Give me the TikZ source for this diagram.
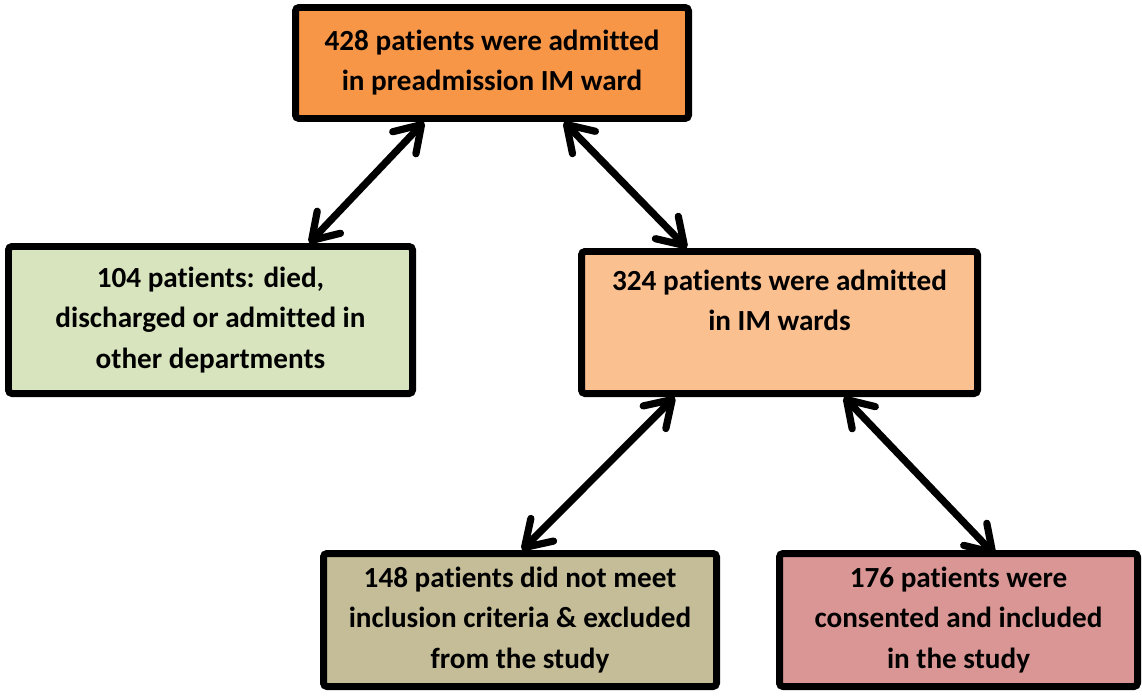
\documentclass[tikz,border=0pt]{standalone}
\usepackage{fontspec}
\setmainfont{Carlito}[Ligatures=NoCommon]
\usepackage{tikz}
\usetikzlibrary{arrows.meta,positioning,calc}

\definecolor{admitorange}{HTML}{F79646}
\definecolor{wardorange}{HTML}{FAC090}
\definecolor{othergreen}{HTML}{D7E4BD}
\definecolor{excludedkhaki}{HTML}{C4BD97}
\definecolor{includedrose}{HTML}{D99694}

\begin{document}
\begin{tikzpicture}[
      flowbox/.style={rectangle, draw, line width=3.98pt, rounded corners=2pt, align=center, inner sep=2pt,
        font=\fontsize{16.6}{22.8}\selectfont\bfseries},
      arrow/.style={{Straight Barb[round,length=5mm,width=6.4mm]}-{Straight Barb[round,length=5mm,width=6.4mm]}, line width=4.1pt}
    ]
      \useasboundingbox (0,0) rectangle (22.84,13.96);

      % Boxes
      \node[flowbox, fill=admitorange, minimum width=7.86cm, minimum height=2.22cm] (admitted) at (9.84,12.7)
        {428 patients were admitted\\in preadmission IM ward};
      \node[flowbox, fill=othergreen, minimum width=8.08cm, minimum height=2.94cm] (other) at (4.21,7.56)
        {104 patients: died,\\discharged or admitted in\\other departments};
      \node[flowbox, fill=wardorange, minimum width=7.92cm, minimum height=2.84cm, text depth=0.88cm] (ward) at (15.59,7.51)
        {324 patients were admitted\\in IM wards};
      \node[flowbox, fill=excludedkhaki, minimum width=7.86cm, minimum height=2.66cm] (excluded) at (10.4,1.56)
        {148 patients did not meet\\inclusion criteria \& excluded\\from the study};
      \node[flowbox, fill=includedrose, minimum width=7.16cm, minimum height=2.66cm] (included) at (19.17,1.56)
        {176 patients were\\consented and included\\in the study};

      % Arrows
      \draw[arrow] ($(admitted.south west)!0.33!(admitted.south east)$) -- ($(other.north west)!0.74!(other.north east)$);
      \draw[arrow] ($(admitted.south west)!0.68!(admitted.south east)$) -- ($(ward.north west)!0.27!(ward.north east)$);
      \draw[arrow] ($(ward.south west)!0.24!(ward.south east)$) -- ($(excluded.north west)!0.505!(excluded.north east)$);
      \draw[arrow] ($(ward.south west)!0.66!(ward.south east)$) -- ($(included.north west)!0.6!(included.north east)+(0,-0.1)$);

    \end{tikzpicture}
\end{document}
